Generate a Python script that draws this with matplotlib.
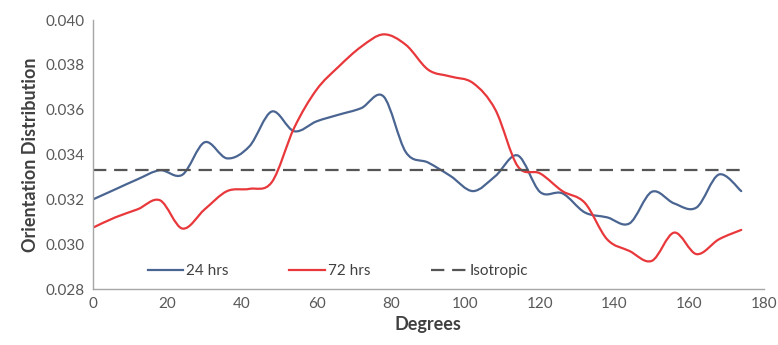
import numpy as np
import matplotlib
matplotlib.use("Agg")
import matplotlib.pyplot as plt
from matplotlib.path import Path
from matplotlib.patches import PathPatch
from matplotlib.lines import Line2D

plt.rcParams['font.family'] = ['Lato', 'DejaVu Sans']

degrees = [0, 6, 12, 18, 24, 30, 36, 42, 48, 54, 60, 66, 72, 78, 84, 90,
           96, 102, 108, 114, 120, 126, 132, 138, 144, 150, 156, 162, 168, 174]
hrs24 = [0.0320, 0.03245, 0.0329, 0.0333, 0.0331, 0.03455, 0.03383, 0.03437,
         0.03592, 0.03504, 0.03548, 0.03578, 0.03607, 0.03659, 0.0341, 0.03364,
         0.03304, 0.03237, 0.03304, 0.03396, 0.03233, 0.03227, 0.03142, 0.0312,
         0.03093, 0.03234, 0.03182, 0.03164, 0.03311, 0.03237]
hrs72 = [0.03074, 0.0312, 0.03156, 0.03196, 0.0307, 0.03156, 0.03237, 0.03247,
         0.03277, 0.03519, 0.03689, 0.03793, 0.03881, 0.03936, 0.03889, 0.03778,
         0.03748, 0.03719, 0.0360, 0.03348, 0.03316, 0.03237, 0.03185, 0.03022,
         0.0297, 0.02926, 0.03052, 0.02956, 0.03022, 0.03064]
isotropic = 1.0 / 30
xticks = [0, 20, 40, 60, 80, 100, 120, 140, 160, 180]
yticks = [0.028, 0.030, 0.032, 0.034, 0.036, 0.038, 0.040]

BLUE = '#4A6591'
RED = '#E8383B'
GRAY = '#595959'


def smooth_path(xs, ys, t=1/6):
    """Excel-like smoothed line: Bezier segments through the data points."""
    xs = np.asarray(xs, float)
    ys = np.asarray(ys, float)
    n = len(xs)
    verts = [(xs[0], ys[0])]
    codes = [Path.MOVETO]
    for i in range(n - 1):
        p0 = (xs[max(i - 1, 0)], ys[max(i - 1, 0)])
        p1 = (xs[i], ys[i])
        p2 = (xs[i + 1], ys[i + 1])
        p3 = (xs[min(i + 2, n - 1)], ys[min(i + 2, n - 1)])
        c1 = (p1[0] + (p2[0] - p0[0]) * t, p1[1] + (p2[1] - p0[1]) * t)
        c2 = (p2[0] - (p3[0] - p1[0]) * t, p2[1] - (p3[1] - p1[1]) * t)
        verts += [c1, c2, p2]
        codes += [Path.CURVE4] * 3
    return Path(verts, codes)


fig = plt.figure(figsize=(7.78, 3.45), dpi=100)
ax = fig.add_axes([0.1195, 0.162, 0.862, 0.780])

for ys, col in [(hrs24, BLUE), (hrs72, RED)]:
    ax.add_patch(PathPatch(smooth_path(degrees, ys), facecolor='none',
                           edgecolor=col, lw=1.6, capstyle='round',
                           joinstyle='round'))

ax.plot([degrees[0], degrees[-1]], [isotropic, isotropic], color='#555555',
        lw=1.6, dashes=(6, 3.5))

ax.set_xlim(0, 180)
ax.set_ylim(0.028, 0.040)
ax.set_xticks(xticks)
ax.set_yticks(yticks)
ax.set_yticklabels([f"{v:.3f}" for v in yticks])
ax.tick_params(length=0, labelsize=11, labelcolor=GRAY, pad=6)
for s in ['top', 'right']:
    ax.spines[s].set_visible(False)
for s in ['left', 'bottom']:
    ax.spines[s].set_color('#A6A6A6')
    ax.spines[s].set_linewidth(1.0)

ax.set_xlabel('Degrees', fontsize=13, fontweight='bold', color='#404040', labelpad=3)
ax.set_ylabel('Orientation Distribution', fontsize=13, fontweight='bold',
              color='#404040', labelpad=5)

handles = [Line2D([], [], color=BLUE, lw=1.6),
           Line2D([], [], color=RED, lw=1.6),
           Line2D([], [], color='#555555', lw=1.6, dashes=(6, 3.5))]
ax.legend(handles, ['24 hrs', '72 hrs', 'Isotropic'], loc='lower center',
          bbox_to_anchor=(0.365, -0.01), ncol=3, frameon=False, fontsize=11,
          handlelength=2.3, handletextpad=0.2, columnspacing=4.0,
          labelcolor='#404040')

fig.savefig('out.png', dpi=100)
